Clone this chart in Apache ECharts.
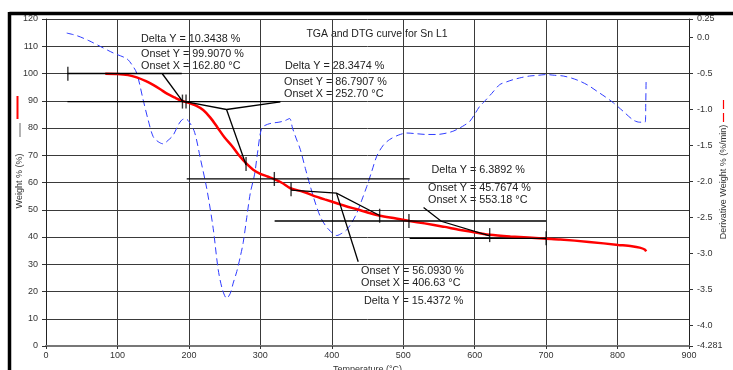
<!DOCTYPE html>
<html>
<head>
<meta charset="utf-8">
<script src="https://cdn.jsdelivr.net/npm/echarts@6/dist/echarts.min.js"></script>
<style>
  html, body { margin: 0; padding: 0; background: #fff; }
  #chart { width: 733px; height: 370px; }
</style>
</head>
<body>
<div id="chart"></div>
<script>
// TGA curve: temperature (°C) and weight (%)
const tgaTemp   = [83, 100, 115, 127, 140, 150, 160, 170, 180, 191, 200, 210, 220, 230, 240, 250, 260, 270, 281, 290, 300, 310, 318, 330, 342, 360, 374, 390, 407, 420, 435, 450, 467, 490, 509, 530, 556, 580, 607, 621, 650, 700, 720, 760, 801, 820, 831, 838, 840];
const tgaWeight = [99.9, 99.8, 99.4, 98.6, 97.2, 95.8, 94.2, 92.5, 91.2, 89.9, 89.2, 88.2, 86.6, 83.8, 80.2, 76.5, 73.5, 70.0, 66.8, 64.7, 63.2, 62.2, 61.4, 59.9, 57.9, 56.6, 55.2, 53.8, 52.4, 51.3, 50.2, 49.0, 47.8, 46.8, 45.9, 45.0, 43.8, 42.6, 41.4, 40.8, 40.2, 39.4, 39.1, 38.2, 37.1, 36.6, 36.1, 35.4, 34.7];

// DTG curve: temperature (°C) and derivative weight (%/min)
const dtgTemp = [29, 43, 60, 76, 94, 113, 120, 127, 136, 143, 150, 157, 164, 171, 178, 185, 190, 195, 200, 208, 216, 225, 234, 241, 247, 253, 258, 262, 267, 272, 276, 281, 286, 292, 296, 302, 310, 318, 326, 334, 341, 345, 350, 356, 363, 370, 377, 384, 391, 398, 407, 414, 421, 428, 435, 442, 449, 456, 463, 472, 481, 493, 505, 519, 533, 547, 561, 571, 579, 586, 593, 600, 607, 612, 624, 635, 645, 654, 666, 677, 689, 700, 712, 724, 736, 747, 759, 771, 783, 794, 808, 822, 831, 838.7, 839.5, 840];
const dtgRate = [0.055, 0.02, -0.05, -0.13, -0.22, -0.30, -0.38, -0.50, -0.87, -1.15, -1.38, -1.45, -1.48, -1.43, -1.36, -1.22, -1.15, -1.13, -1.17, -1.32, -1.68, -2.10, -2.65, -3.22, -3.50, -3.62, -3.55, -3.41, -3.25, -3.04, -2.85, -2.50, -2.16, -1.90, -1.61, -1.26, -1.21, -1.19, -1.18, -1.16, -1.13, -1.26, -1.40, -1.56, -1.82, -2.07, -2.30, -2.49, -2.61, -2.69, -2.75, -2.72, -2.67, -2.57, -2.44, -2.26, -2.07, -1.86, -1.65, -1.50, -1.42, -1.36, -1.33, -1.34, -1.35, -1.35, -1.33, -1.30, -1.26, -1.22, -1.17, -1.07, -0.96, -0.91, -0.78, -0.66, -0.62, -0.59, -0.56, -0.54, -0.53, -0.52, -0.53, -0.54, -0.57, -0.61, -0.67, -0.75, -0.83, -0.91, -1.03, -1.15, -1.18, -1.18, -0.90, -0.58];

// Axis ticks
const tempTicks = [0, 100, 200, 300, 400, 500, 600, 700, 800, 900];
const weightTicks = [0, 10, 20, 30, 40, 50, 60, 70, 80, 90, 100, 110, 120];
const rateTicks = [0.25, 0.0, -0.5, -1.0, -1.5, -2.0, -2.5, -3.0, -3.5, -4.0, -4.281];

// Step analysis results
const onsetX = [162.80, 252.70, 406.63, 553.18];
const onsetY = [99.9070, 86.7907, 56.0930, 45.7674];
const deltaY = [10.3438, 28.3474, 15.4372, 6.3892];
const startWeight = 100.0;

// Analysis limit markers on the curve (°C, %)
const limitTemp   = [30.6, 191, 196, 280, 319.6, 343, 467, 508, 621, 700];
const limitWeight = [99.9, 89.7, 89.7, 66.8, 61.3, 57.5, 47.8, 45.9, 40.7, 39.5];

// Ends of the tangent constructions (°C, %)
const tangentEnds = [
  { from: [191, 89.9] },
  { from: [191, 89.9], right: [328, 89.6], down: [280, 66.4] },
  { from: [343, 57.2], right: [467, 47.9], down: [437, 30.9] },
  { from: [528.5, 50.8], right: [621, 40.4] }
];
// Horizontal step levels span (°C)
const levelSpans = [[30, 190], [30, 328], [197, 509], [320, 700], [509, 700]];

const FONT = '"Liberation Sans", Arial, sans-serif';

// weight levels after each step
const levels = [startWeight];
deltaY.forEach(d => levels.push(+(levels[levels.length - 1] - d).toFixed(4)));

const constructionLines = [];
levelSpans.forEach((s, i) => constructionLines.push({ coords: [[s[0], levels[i]], [s[1], levels[i]]] }));
onsetX.forEach((ox, i) => {
  const o = [ox, onsetY[i]];
  const t = tangentEnds[i];
  if (i === 0) {
    constructionLines.push({ coords: [o, t.from] });
  } else {
    constructionLines.push({ coords: [t.from, o, t.right] });
    if (t.down) constructionLines.push({ coords: [o, t.down] });
  }
});

const chart = echarts.init(document.getElementById('chart'), null, { renderer: 'canvas' });

const labelStyle = { color: '#333', fontSize: 9, fontFamily: FONT };

const option = {
  animation: false,
  backgroundColor: '#fff',
  grid: { left: 46, right: 44, top: 19, bottom: 24, outerBoundsMode: 'none', containLabel: false },
  xAxis: {
    type: 'value', min: 0, max: 900, interval: 100,
    name: 'Temperature (°C)', nameLocation: 'middle', nameGap: 17,
    nameTextStyle: { color: '#333', fontSize: 9, fontFamily: FONT },
    axisLine: { lineStyle: { color: '#777', width: 2 } },
    axisTick: { show: true, length: 3, lineStyle: { color: '#333' } },
    axisLabel: Object.assign({ margin: 5 }, labelStyle),
    splitLine: { show: true, lineStyle: { color: '#3a3a3a', width: 1 } }
  },
  yAxis: [
    {
      type: 'value', min: 0, max: 120, interval: 10,
      axisLine: { show: true, lineStyle: { color: '#222', width: 1 } },
      axisTick: { show: true, length: 4, lineStyle: { color: '#333' } },
      axisLabel: Object.assign({ margin: 8 }, labelStyle),
      splitLine: { show: true, lineStyle: { color: '#3a3a3a', width: 1 } }
    },
    {
      type: 'value', min: -4.281, max: 0.25, position: 'right',
      axisLine: { show: true, lineStyle: { color: '#222', width: 1 } },
      axisTick: { show: true, length: 4, customValues: rateTicks, lineStyle: { color: '#333' } },
      axisLabel: Object.assign({
        margin: 8,
        customValues: rateTicks,
        formatter: v => (Math.abs(v - 0.25) < 1e-9 || Math.abs(v + 4.281) < 1e-9) ? String(v) : v.toFixed(1)
      }, labelStyle),
      splitLine: { show: false }
    }
  ],
  series: [
    {
      name: 'DTG', type: 'line', yAxisIndex: 1, showSymbol: false, smooth: 0.3,
      data: dtgTemp.map((t, i) => [t, dtgRate[i]]),
      lineStyle: { color: '#2f3cff', width: 1, type: [7, 4] },
      z: 3
    },
    {
      name: 'TGA', type: 'line', yAxisIndex: 0, showSymbol: false, smooth: 0.3,
      data: tgaTemp.map((t, i) => [t, tgaWeight[i]]),
      lineStyle: { color: '#ff0000', width: 2.5 },
      z: 4
    },
    {
      name: 'Construction', type: 'lines', coordinateSystem: 'cartesian2d', polyline: true,
      data: constructionLines,
      lineStyle: { color: '#000', width: 1.3, opacity: 1 },
      silent: true, z: 5
    },
    {
      name: 'Limits', type: 'scatter', yAxisIndex: 0,
      data: limitTemp.map((t, i) => [t, limitWeight[i]]),
      symbol: 'rect', symbolSize: [1.4, 14],
      itemStyle: { color: '#000' }, silent: true, z: 6
    }
  ],
  graphic: [
    // page frame
    { type: 'line', shape: { x1: 9.5, y1: 13.5, x2: 733, y2: 13.5 }, style: { stroke: '#000', lineWidth: 3.5 } },
    { type: 'line', shape: { x1: 9.5, y1: 12, x2: 9.5, y2: 370 }, style: { stroke: '#000', lineWidth: 3.5 } },
    // title
    { type: 'text', x: 377, y: 34, style: { text: 'TGA and DTG curve for Sn L1', font: '10.5px ' + FONT, fill: '#222', align: 'center', verticalAlign: 'middle' } },
    // left axis title and legend sample
    { type: 'text', x: 20, y: 181, rotation: Math.PI / 2, style: { text: 'Weight % (%)', font: '9px ' + FONT, fill: '#333', align: 'center', verticalAlign: 'middle' } },
    { type: 'line', shape: { x1: 20, y1: 123, x2: 20, y2: 137 }, style: { stroke: '#666', lineWidth: 1 } },
    { type: 'line', shape: { x1: 17.5, y1: 96, x2: 17.5, y2: 119 }, style: { stroke: '#ff0000', lineWidth: 2 } },
    // right axis title and legend sample
    { type: 'text', x: 724, y: 182, rotation: Math.PI / 2, style: { text: 'Derivative Weight % (%/min)', font: '9px ' + FONT, fill: '#333', align: 'center', verticalAlign: 'middle' } },
    { type: 'line', shape: { x1: 723.5, y1: 100, x2: 723.5, y2: 123 }, style: { stroke: '#ff0000', lineWidth: 1.2, lineDash: [9, 4] } },
    // step analysis annotations
    { type: 'text', x: 141, y: 39, style: { text: 'Delta Y = ' + deltaY[0].toFixed(4) + ' %', font: '10.8px ' + FONT, fill: '#222', verticalAlign: 'middle' } },
    { type: 'text', x: 141, y: 54, style: { text: 'Onset Y = ' + onsetY[0].toFixed(4) + ' %', font: '10.8px ' + FONT, fill: '#222', verticalAlign: 'middle' } },
    { type: 'text', x: 141, y: 66.5, style: { text: 'Onset X = ' + onsetX[0].toFixed(2) + ' °C', font: '10.8px ' + FONT, fill: '#222', verticalAlign: 'middle' } },
    { type: 'text', x: 285, y: 66, style: { text: 'Delta Y = ' + deltaY[1].toFixed(4) + ' %', font: '10.8px ' + FONT, fill: '#222', verticalAlign: 'middle' } },
    { type: 'text', x: 284, y: 82, style: { text: 'Onset Y = ' + onsetY[1].toFixed(4) + ' %', font: '10.8px ' + FONT, fill: '#222', verticalAlign: 'middle' } },
    { type: 'text', x: 284, y: 94.5, style: { text: 'Onset X = ' + onsetX[1].toFixed(2) + ' °C', font: '10.8px ' + FONT, fill: '#222', verticalAlign: 'middle' } },
    { type: 'text', x: 431.5, y: 170.5, style: { text: 'Delta Y = ' + deltaY[3].toFixed(4) + ' %', font: '10.8px ' + FONT, fill: '#222', verticalAlign: 'middle' } },
    { type: 'text', x: 428, y: 188, style: { text: 'Onset Y = ' + onsetY[3].toFixed(4) + ' %', font: '10.8px ' + FONT, fill: '#222', verticalAlign: 'middle' } },
    { type: 'text', x: 428, y: 200, style: { text: 'Onset X = ' + onsetX[3].toFixed(2) + ' °C', font: '10.8px ' + FONT, fill: '#222', verticalAlign: 'middle' } },
    { type: 'text', x: 361, y: 271, style: { text: 'Onset Y = ' + onsetY[2].toFixed(4) + ' %', font: '10.8px ' + FONT, fill: '#222', verticalAlign: 'middle' } },
    { type: 'text', x: 361, y: 283, style: { text: 'Onset X = ' + onsetX[2].toFixed(2) + ' °C', font: '10.8px ' + FONT, fill: '#222', verticalAlign: 'middle' } },
    { type: 'text', x: 364, y: 301, style: { text: 'Delta Y = ' + deltaY[2].toFixed(4) + ' %', font: '10.8px ' + FONT, fill: '#222', verticalAlign: 'middle' } }
  ]
};

chart.setOption(option);
</script>
</body>
</html>
